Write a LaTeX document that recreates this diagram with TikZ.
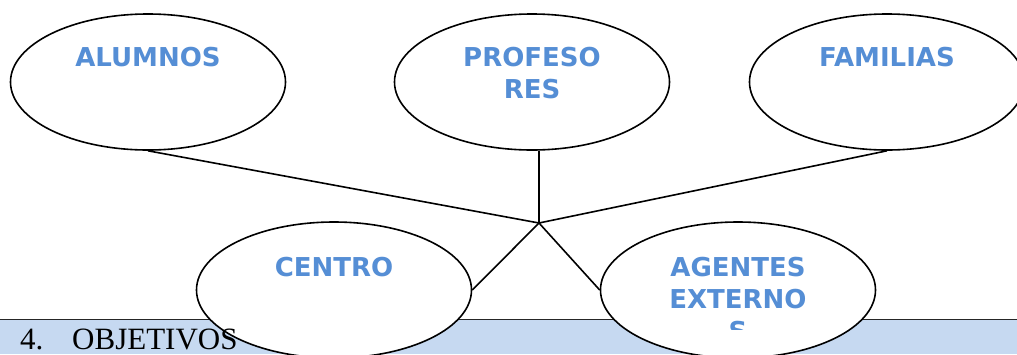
\documentclass[tikz,border=0pt]{standalone}
\usepackage{fontspec}
\setmainfont{Liberation Serif}
\newfontfamily\labelfont{DejaVu Sans}
\usetikzlibrary{shapes.geometric,positioning,backgrounds}
\definecolor{lblblue}{HTML}{558ED5}
\definecolor{bandblue}{HTML}{C6D9F1}

\begin{document}
\begin{tikzpicture}[x=1pt,y=-1pt,
    blob/.style={ellipse,draw,line width=1.6pt,fill=white,minimum width=275pt,minimum height=136pt,inner sep=0pt},
    spoke/.style={line width=1.6pt},
    lbl/.style={font=\labelfont\bfseries\fontsize{26}{32}\selectfont,text=lblblue,align=center,inner sep=0pt,anchor=north},
    objtxt/.style={font=\fontsize{31}{36}\selectfont,inner sep=0pt,anchor=base west}]
    \clip (0,0) rectangle (1017,354);
    % the five groups
    \node[blob] (alum) at (148,82) {};
    \node[blob, right=384pt of alum.center, anchor=center] (prof) {};
    \node[blob, right=355pt of prof.center, anchor=center] (fam) {};
    \node[blob] (cen) at (334,290) {};
    \node[blob, right=404pt of cen.center, anchor=center] (agen) {};
    \coordinate (H) at (539,223);
    \begin{scope}[on background layer]
        % heading band
        \fill[bandblue] (0,319) rectangle (1017,354);
        \draw[line width=1pt,black!85] (0,319) -- (1017,319);
        % spokes to the centre
        \draw[spoke] (alum.south) -- (H);
        \draw[spoke] (H |- prof.south) -- (H);
        \draw[spoke] (fam.south) -- (H);
        \draw[spoke] (H) -- (cen.east);
        \draw[spoke] (H) -- (agen.west);
    \end{scope}
    % labels
    \node[lbl] at ([yshift=-34pt]alum.north) {ALUMNOS};
    \node[lbl] at ([yshift=-34pt]prof.north) {PROFESO\\RES};
    \node[lbl] at ([yshift=-34pt]fam.north) {FAMILIAS};
    \node[lbl] at ([yshift=-36pt]cen.north) {CENTRO};
    \begin{scope}
        \clip (600,222) rectangle (876,329);
        \node[lbl] at ([yshift=-36pt]agen.north) {AGENTES\\EXTERNO\\S};
    \end{scope}
    \node[objtxt] (num) at (20,349) {4.};
    \node[objtxt] (obj) at (72,349) {OBJETIVOS};
\end{tikzpicture}
\end{document}
